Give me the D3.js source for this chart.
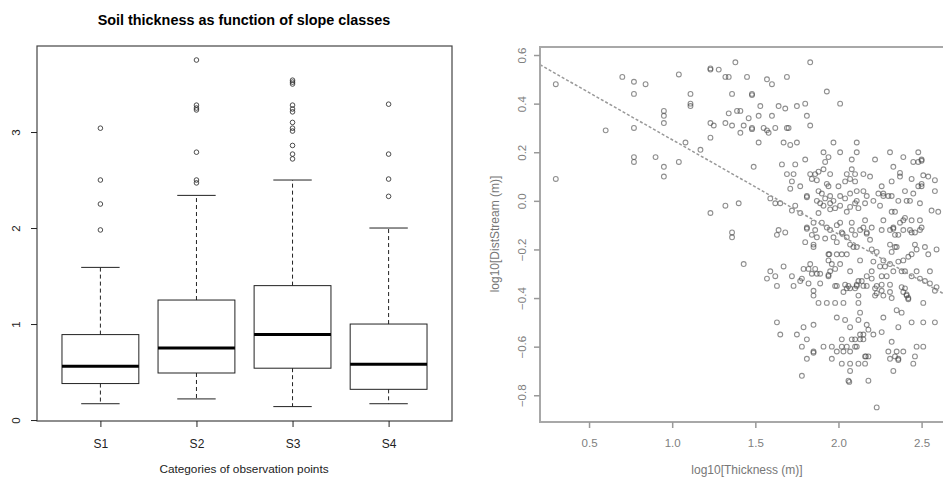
<!DOCTYPE html>
<html lang="en">
<head>
<meta charset="UTF-8">
<title>Soil thickness as function of slope classes</title>
<script src="https://d3js.org/d3.v7.min.js"></script>
<style>
  body { margin: 0; background: #fff; }
  svg { display: block; font-family: "Liberation Sans", Arial, sans-serif; }
</style>
</head>
<body>
<svg id="chart" width="943" height="477"></svg>
<script>
// ---- boxplot data (soil thickness, m) ----
const slopeClasses = ["S1", "S2", "S3", "S4"];
const whiskerLow  = [0.17, 0.22, 0.14, 0.17];
const quartile1   = [0.38, 0.49, 0.54, 0.32];
const medians     = [0.56, 0.75, 0.89, 0.58];
const quartile3   = [0.89, 1.25, 1.40, 1.00];
const whiskerHigh = [1.59, 2.34, 2.50, 2.00];
const outliers = [
  [1.98, 2.25, 2.50, 3.04],
  [2.47, 2.50, 2.79, 3.23, 3.25, 3.28, 3.75],
  [2.72, 2.77, 2.86, 3.01, 3.04, 3.10, 3.21, 3.24, 3.28, 3.50, 3.52, 3.54],
  [2.33, 2.51, 2.77, 3.29]
];
const boxTicks = [0, 1, 2, 3];

// ---- scatter data: [log10 thickness, log10 distance to stream] ----
const scatterPoints = [
  [0.30,0.48],[0.30,0.09],[0.60,0.29],[0.70,0.51],[0.77,0.49],[0.77,0.44],[0.84,0.48],[0.77,0.30],
  [0.77,0.18],[0.77,0.16],[0.90,0.18],[0.95,0.37],[0.95,0.35],[0.95,0.32],[0.95,0.14],[0.95,0.10],
  [1.04,0.52],[1.04,0.16],[1.08,0.24],[1.11,0.44],[1.11,0.40],[1.11,0.39],[1.17,0.21],[1.23,0.54],
  [1.23,0.545],[1.28,0.54],[1.23,0.32],[1.25,0.31],[1.23,0.26],[1.23,-0.05],[1.32,0.51],[1.34,0.51],
  [1.38,0.57],[1.36,0.44],[1.34,0.36],[1.32,0.32],[1.36,0.31],[1.32,-0.02],[1.40,-0.01],[1.36,-0.13],
  [1.36,-0.15],[1.39,0.37],[1.41,0.37],[1.45,0.51],[1.41,0.28],[1.43,0.31],[1.48,0.44],[1.48,0.435],
  [1.46,0.34],[1.48,0.30],[1.48,0.295],[1.52,0.35],[1.53,0.39],[1.52,0.24],[1.49,0.14],[1.55,0.30],
  [1.57,0.50],[1.57,0.29],[1.58,0.28],[1.60,0.48],[1.60,0.35],[1.62,0.30],[1.64,0.39],[1.68,0.38],
  [1.69,0.51],[1.69,0.30],[1.70,0.30],[1.67,0.24],[1.71,0.23],[1.75,0.24],[1.75,0.39],[1.80,0.40],
  [1.81,0.35],[1.83,0.31],[1.83,0.57],[1.93,0.45],[2.01,0.40],[1.66,0.15],[1.74,0.15],[1.80,0.17],
  [2.11,0.24],[2.11,0.20],[1.97,0.24],[2.01,0.20],[1.91,0.20],[1.94,0.18],[2.22,0.17],[2.31,0.20],
  [2.39,0.18],[2.48,0.20],[2.50,0.17],[2.50,0.165],[2.45,0.16],[2.48,0.16],
  [1.92,0.16],[2.08,0.17],[1.91,0.13],[1.88,0.12],[1.86,0.11],[1.83,0.11],[1.84,0.09],[1.95,0.11],
  [1.73,0.11],[1.69,0.11],[2.08,0.13],[2.05,0.11],[2.10,0.11],[2.07,0.09],[2.04,0.08],[1.72,0.08],
  [1.87,0.085],[1.93,0.07],[1.77,0.06],[1.94,0.06],[2.00,0.06],[1.71,0.05],[1.88,0.04],[1.90,0.03],
  [1.81,0.02],[1.81,0.015],[1.59,0.01],[1.95,0.02],[1.97,0.00],[1.92,0.01],[1.95,-0.01],[2.01,0.02],
  [2.04,0.01],[2.07,0.03],[2.11,0.00],[2.10,-0.01],[1.87,0.00],[1.89,-0.01],[1.91,-0.02],[1.62,-0.01],
  [1.65,-0.01],[1.74,-0.02],[1.72,-0.04],[1.77,-0.05],[1.88,-0.05],[1.95,-0.035],[1.98,-0.03],[2.01,-0.02],
  [2.07,-0.025],[2.05,-0.045],[2.01,-0.09],[1.99,-0.10],[1.81,-0.11],[1.81,-0.115],[1.85,-0.09],[1.86,-0.12],
  [1.90,-0.09],[1.93,-0.11],[1.95,-0.12],[1.64,-0.12],[1.63,-0.14],[1.68,-0.13],[1.84,-0.14],[1.87,-0.15],
  [2.02,-0.13],[2.025,-0.135],[2.05,-0.15],[2.08,-0.12],[2.10,-0.14],[1.92,-0.155],[1.97,-0.15],[1.99,-0.17],
  [1.80,-0.17],[1.85,-0.18],[2.07,-0.18],[2.11,-0.19],
  [2.10,0.08],[2.19,0.10],[2.15,0.11],[2.33,0.14],[2.37,0.115],[2.37,0.10],[2.32,0.08],[2.44,0.09],
  [2.51,0.105],[2.54,0.10],[2.50,0.07],[2.48,0.06],[2.50,0.06],[2.58,0.085],[2.26,0.06],[2.11,0.04],
  [2.15,0.04],[2.24,0.03],[2.27,0.03],[2.30,0.02],[2.27,0.02],[2.17,0.02],[2.21,0.00],[2.32,0.02],
  [2.36,0.00],[2.40,0.04],[2.41,0.00],[2.43,0.00],[2.45,0.03],[2.49,-0.01],[2.12,-0.03],[2.16,-0.01],
  [2.25,-0.02],[2.32,-0.045],[2.34,-0.045],[2.56,-0.04],[2.60,-0.045],[2.58,0.04],[2.08,-0.09],[2.16,-0.08],
  [2.27,-0.08],[2.37,-0.09],[2.39,-0.08],[2.40,-0.07],[2.44,-0.08],[2.49,-0.08],[2.15,-0.11],[2.13,-0.12],
  [2.17,-0.13],[2.17,-0.135],[2.20,-0.11],[2.26,-0.12],[2.31,-0.12],[2.33,-0.11],[2.33,-0.115],[2.39,-0.12],
  [2.43,-0.12],[2.44,-0.13],[2.46,-0.13],[2.49,-0.12],[2.50,-0.11],[2.34,-0.14],[2.36,-0.14],[2.19,-0.16],
  [2.31,-0.18],[2.35,-0.19],[2.46,-0.18],[2.59,-0.20],
  [1.43,-0.26],[1.67,-0.27],[1.59,-0.29],[1.57,-0.32],[1.62,-0.31],[1.63,-0.35],[1.72,-0.31],[1.78,-0.32],
  [1.77,-0.33],[1.73,-0.35],[1.79,-0.28],[1.83,-0.26],[1.82,-0.28],[1.86,-0.28],[1.84,-0.30],[1.87,-0.30],
  [1.89,-0.30],[1.82,-0.34],[1.89,-0.34],[1.85,-0.37],[1.85,-0.39],[1.88,-0.42],[1.94,-0.22],[1.945,-0.22],
  [1.99,-0.22],[2.02,-0.22],[2.05,-0.22],[1.94,-0.245],[1.96,-0.26],[1.98,-0.28],[2.01,-0.26],[1.95,-0.29],
  [1.94,-0.31],[1.94,-0.305],[1.85,-0.19],[1.98,-0.35],[1.99,-0.35],[2.04,-0.345],[2.06,-0.35],[2.03,-0.375],
  [1.93,-0.42],[1.98,-0.42],[2.03,-0.42],[1.99,-0.48],[2.04,-0.49],[1.63,-0.50],[1.79,-0.52],[1.85,-0.51],
  [1.65,-0.55],[1.75,-0.55],
  [2.09,-0.19],[2.20,-0.20],[2.23,-0.21],[2.32,-0.21],[2.34,-0.19],[2.47,-0.20],[2.52,-0.19],[2.13,-0.245],
  [2.21,-0.25],[2.27,-0.245],[2.31,-0.26],[2.36,-0.25],[2.39,-0.245],[2.42,-0.23],[2.44,-0.22],[2.54,-0.22],
  [2.25,-0.27],[2.28,-0.27],[2.33,-0.29],[2.38,-0.29],[2.40,-0.29],[2.47,-0.29],[2.55,-0.29],[2.20,-0.29],
  [2.07,-0.29],[2.17,-0.31],[2.20,-0.32],[2.26,-0.31],[2.29,-0.31],[2.44,-0.31],[2.49,-0.32],[2.14,-0.33],
  [2.12,-0.33],[2.11,-0.35],[2.11,-0.345],[2.15,-0.35],[2.17,-0.35],[2.23,-0.35],[2.26,-0.345],[2.31,-0.345],
  [2.52,-0.33],[2.55,-0.34],[2.05,-0.36],[2.07,-0.36],[2.10,-0.36],[2.38,-0.355],[2.40,-0.36],[2.39,-0.375],
  [2.41,-0.39],[2.41,-0.385],[2.42,-0.40],[2.42,-0.405],[2.22,-0.36],[2.23,-0.38],[2.26,-0.37],[2.27,-0.39],
  [2.31,-0.375],[2.32,-0.40],[2.59,-0.355],[2.58,-0.37],[2.22,-0.39],[2.12,-0.39],[2.12,-0.42],[2.51,-0.42],
  [2.13,-0.46],[2.12,-0.49],[2.27,-0.48],[2.35,-0.45],[2.38,-0.46],[2.44,-0.50],[2.51,-0.50],[2.58,-0.50],
  [2.07,-0.52],[2.17,-0.51],[2.18,-0.53],[2.21,-0.55],[2.36,-0.52],[2.15,-0.55],[2.13,-0.55],[2.26,-0.54],
  [1.81,-0.57],[2.02,-0.57],[2.08,-0.57],[2.10,-0.57],[2.15,-0.57],[2.13,-0.57],[1.78,-0.60],[1.85,-0.62],
  [1.85,-0.625],[1.91,-0.60],[1.96,-0.60],[1.99,-0.62],[2.02,-0.60],[2.03,-0.62],[2.05,-0.60],[2.07,-0.62],
  [2.10,-0.60],[2.11,-0.60],[2.16,-0.64],[2.165,-0.64],[2.18,-0.64],[2.32,-0.58],[2.30,-0.62],[2.35,-0.62],
  [2.39,-0.62],[2.34,-0.64],[2.31,-0.65],[2.36,-0.65],[2.36,-0.655],[2.47,-0.60],[2.51,-0.60],[2.46,-0.64],
  [2.45,-0.67],[2.33,-0.70],[1.81,-0.65],[1.96,-0.65],[2.02,-0.67],[2.07,-0.67],[2.12,-0.67],[2.16,-0.67],
  [2.07,-0.70],[1.78,-0.72],[2.06,-0.74],[2.065,-0.745],[2.18,-0.74],[2.23,-0.85]
];
// fitted trend line end points
const trendX = [0.205, 2.755];
const trendY = [0.56, -0.43];
const scatterXTicks = [0.5, 1.0, 1.5, 2.0, 2.5];
const scatterYTicks = [-0.8, -0.6, -0.4, -0.2, 0.0, 0.2, 0.4, 0.6];

const svg = d3.select("#chart");

// ================= Left: boxplot =================
const bx = d3.scaleLinear().domain([0.34, 4.66]).range([37, 452]);
const by = d3.scaleLinear().domain([-0.01, 3.896]).range([421, 46]);
const left = svg.append("g");
const ink = "#222";

left.append("text")
  .attr("x", 244).attr("y", 25)
  .attr("text-anchor", "middle")
  .attr("font-size", 14.4).attr("font-weight", "bold")
  .attr("fill", "#000")
  .text("Soil thickness as function of slope classes");

slopeClasses.forEach((c, i) => {
  const p = i + 1;
  const g = left.append("g").attr("stroke", ink).attr("fill", "none");
  // whiskers
  g.append("line").attr("x1", bx(p)).attr("x2", bx(p))
    .attr("y1", by(quartile3[i])).attr("y2", by(whiskerHigh[i]))
    .attr("stroke-dasharray", "4,3");
  g.append("line").attr("x1", bx(p)).attr("x2", bx(p))
    .attr("y1", by(quartile1[i])).attr("y2", by(whiskerLow[i]))
    .attr("stroke-dasharray", "4,3");
  // caps
  [whiskerHigh[i], whiskerLow[i]].forEach(v => {
    g.append("line").attr("x1", bx(p - 0.2)).attr("x2", bx(p + 0.2))
      .attr("y1", by(v)).attr("y2", by(v));
  });
  // box
  g.append("rect")
    .attr("x", bx(p - 0.4)).attr("width", bx(p + 0.4) - bx(p - 0.4))
    .attr("y", by(quartile3[i])).attr("height", by(quartile1[i]) - by(quartile3[i]));
  // median
  g.append("line").attr("x1", bx(p - 0.4)).attr("x2", bx(p + 0.4))
    .attr("y1", by(medians[i])).attr("y2", by(medians[i]))
    .attr("stroke", "#000").attr("stroke-width", 3);
  // outliers
  g.selectAll("circle").data(outliers[i]).join("circle")
    .attr("cx", bx(p)).attr("cy", d => by(d)).attr("r", 2.3)
    .attr("stroke-width", 0.8);
});

left.append("rect")
  .attr("x", 37).attr("y", 46).attr("width", 415).attr("height", 375)
  .attr("fill", "none").attr("stroke", "#444").attr("stroke-width", 1.2);

const bYAxis = left.append("g").attr("transform", "translate(37,0)")
  .call(d3.axisLeft(by).tickValues(boxTicks).tickSize(6).tickFormat(d3.format("d")));
bYAxis.select(".domain").remove();
bYAxis.selectAll("line").attr("stroke", ink);
bYAxis.selectAll("text")
  .attr("x", 0).attr("y", -17).attr("dy", 0)
  .attr("transform", "rotate(-90)")
  .attr("text-anchor", "middle")
  .attr("font-size", 11.5).attr("fill", ink);

const bXAxis = left.append("g").attr("transform", "translate(0,421)")
  .call(d3.axisBottom(bx).tickValues([1, 2, 3, 4]).tickSize(6).tickPadding(12)
    .tickFormat(d => slopeClasses[d - 1]));
bXAxis.select(".domain").remove();
bXAxis.selectAll("line").attr("stroke", ink);
bXAxis.selectAll("text").attr("font-size", 12).attr("fill", ink);

left.append("text")
  .attr("x", 244).attr("y", 473)
  .attr("text-anchor", "middle")
  .attr("font-size", 11.8).attr("fill", ink)
  .text("Categories of observation points");

// ================= Right: scatter =================
const sx = d3.scaleLinear().domain([0.205, 2.755]).range([540, 964]);
const sy = d3.scaleLinear().domain([-0.91, 0.633]).range([422, 47]);
const right = svg.append("g");
const grey = "#808080";

right.selectAll("circle").data(scatterPoints).join("circle")
  .attr("cx", d => sx(d[0])).attr("cy", d => sy(d[1])).attr("r", 2.4)
  .attr("fill", "none").attr("stroke", "#444").attr("stroke-opacity", 0.6)
  .attr("stroke-width", 1.1);

right.append("line")
  .attr("x1", sx(trendX[0])).attr("y1", sy(trendY[0]))
  .attr("x2", sx(trendX[1])).attr("y2", sy(trendY[1]))
  .attr("stroke", "#999").attr("stroke-width", 1.5)
  .attr("stroke-dasharray", "3,2");

right.append("rect")
  .attr("x", sx(0.205)).attr("y", sy(0.633))
  .attr("width", sx(2.755) - sx(0.205)).attr("height", sy(-0.91) - sy(0.633))
  .attr("fill", "none").attr("stroke", "#a8a8a8").attr("stroke-width", 2);

const sYAxis = right.append("g").attr("transform", "translate(540,0)")
  .call(d3.axisLeft(sy).tickValues(scatterYTicks).tickSize(6).tickFormat(d3.format(".1f")));
sYAxis.select(".domain").remove();
sYAxis.selectAll("line").attr("stroke", "#999").attr("stroke-width", 1.5);
sYAxis.selectAll("text")
  .attr("x", 0).attr("y", -14).attr("dy", 0)
  .attr("transform", "rotate(-90)")
  .attr("text-anchor", "middle")
  .attr("font-size", 11.5).attr("fill", grey);

const sXAxis = right.append("g").attr("transform", "translate(0,422)")
  .call(d3.axisBottom(sx).tickValues(scatterXTicks).tickSize(6).tickPadding(11)
    .tickFormat(d3.format(".1f")));
sXAxis.select(".domain").remove();
sXAxis.selectAll("line").attr("stroke", "#999").attr("stroke-width", 1.5);
sXAxis.selectAll("text").attr("font-size", 11.5).attr("fill", grey);

right.append("text")
  .attr("x", 747).attr("y", 474)
  .attr("text-anchor", "middle")
  .attr("font-size", 12).attr("fill", "#777")
  .text("log10[Thickness (m)]");

right.append("text")
  .attr("transform", "translate(499,234) rotate(-90)")
  .attr("text-anchor", "middle")
  .attr("font-size", 12).attr("fill", "#777")
  .text("log10[DistStream (m)]");
</script>
</body>
</html>
